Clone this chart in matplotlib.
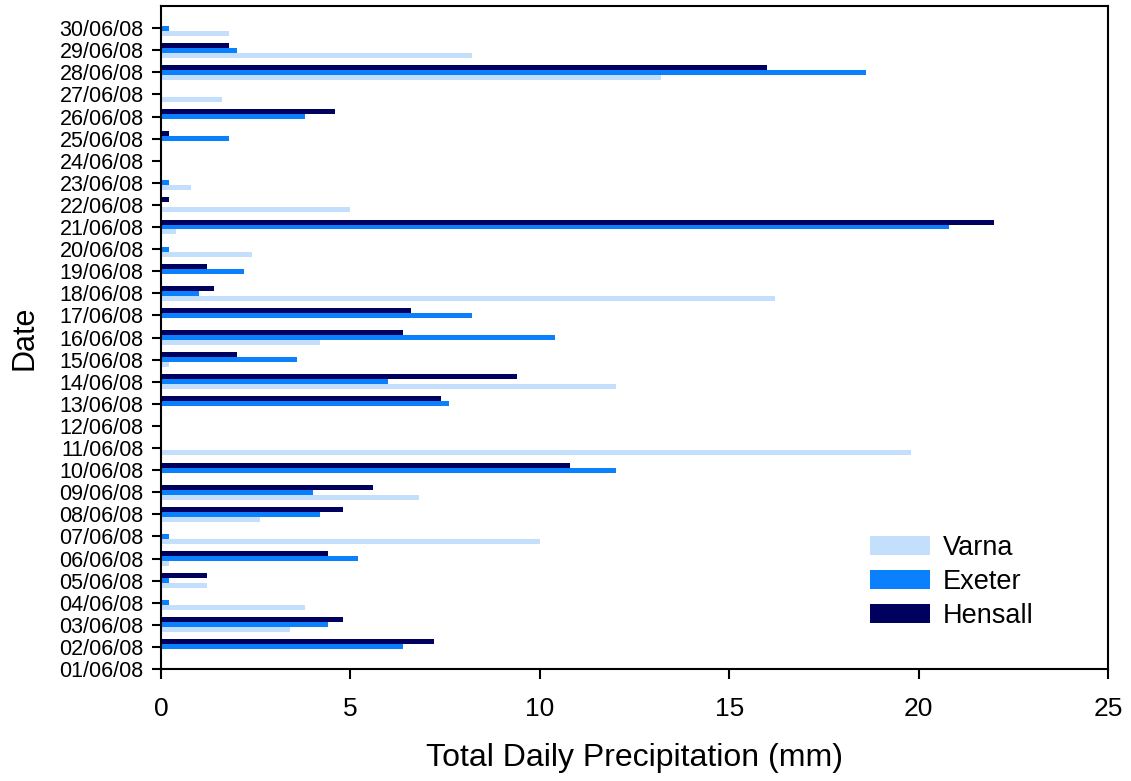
import numpy as np
import matplotlib
matplotlib.use("Agg")
import matplotlib.pyplot as plt

plt.rcParams["font.family"] = ["Liberation Sans", "DejaVu Sans"]

# dates 01/06/08 .. 30/06/08 (bottom to top)
dates = [f"{d:02d}/06/08" for d in range(1, 31)]

varna = [0, 0, 3.4, 3.8, 1.2, 0.2, 10.0, 2.6, 6.8, 0, 19.8, 0, 0, 12.0, 0.2,
         4.2, 0, 16.2, 0, 2.4, 0.4, 5.0, 0.8, 0, 0, 0, 1.6, 13.2, 8.2, 1.8]
exeter = [0, 6.4, 4.4, 0.2, 0.2, 5.2, 0.2, 4.2, 4.0, 12.0, 0, 0, 7.6, 6.0, 3.6,
          10.4, 8.2, 1.0, 2.2, 0.2, 20.8, 0, 0.2, 0, 1.8, 3.8, 0, 18.6, 2.0, 0.2]
hensall = [0, 7.2, 4.8, 0, 1.2, 4.4, 0, 4.8, 5.6, 10.8, 0, 0, 7.4, 9.4, 2.0,
           6.4, 6.6, 1.4, 1.2, 0, 22.0, 0.2, 0, 0, 0.2, 4.6, 0, 16.0, 1.8, 0]

C_VARNA = "#c4dffb"; C_EXETER = "#0a80fc"; C_HENSALL = "#00005e"

fig = plt.figure(figsize=(11.31, 7.81), dpi=100)
ax = fig.add_axes([0.1424, 0.1434, 0.8373, 0.8489])

y = np.arange(len(dates)); h = 0.225
ax.barh(y - h, varna, height=h, color=C_VARNA, label="Varna")
ax.barh(y, exeter, height=h, color=C_EXETER, label="Exeter")
ax.barh(y + h, hensall, height=h, color=C_HENSALL, label="Hensall")

ax.set_xlim(0, 25); ax.set_ylim(0, 30)
ax.set_xticks([0, 5, 10, 15, 20, 25])
ax.set_yticks(y); ax.set_yticklabels(dates)
ax.tick_params(axis="y", labelsize=15.5, length=6.5, width=1.5, pad=6)
ax.tick_params(axis="x", labelsize=19, length=7, width=1.5, pad=13)
for s in ax.spines.values(): s.set_linewidth(1.5)

ax.set_xlabel("Total Daily Precipitation (mm)", fontsize=23, labelpad=16)
ax.set_ylabel("Date", fontsize=22, labelpad=14)

ax.legend(frameon=False, fontsize=19.5, loc="upper left",
          bbox_to_anchor=(870/1131, 1 - 535/781), bbox_transform=fig.transFigure,
          borderpad=0, borderaxespad=0, handlelength=2.2, handleheight=0.68,
          handletextpad=0.5, labelspacing=0.3)

plt.savefig("out.png", dpi=100)
